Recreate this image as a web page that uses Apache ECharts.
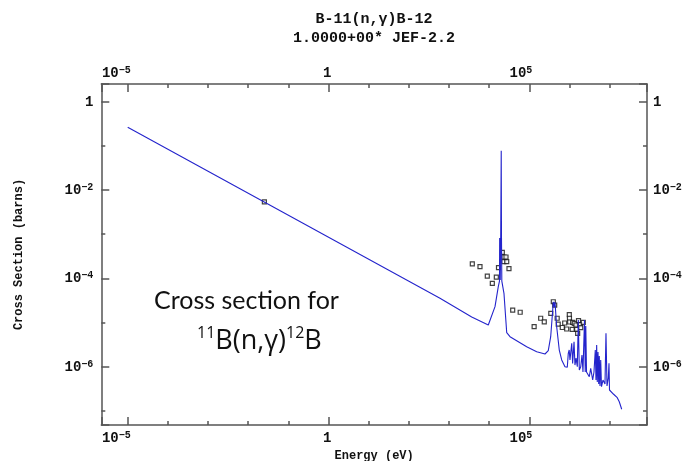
<!DOCTYPE html>
<html><head><meta charset="utf-8">
<script src="https://cdn.jsdelivr.net/npm/echarts@6/dist/echarts.min.js"></script>
<style>html,body{margin:0;padding:0;background:#fff}#c{width:691px;height:461px}</style>
</head><body><div id="c"></div>
<script>
// Energies in eV, cross sections in barns
const jefCurve = [
  [1e-5, 0.263], [597, 3.54e-5], [3680, 1.34e-5], [9530, 8.8e-6],
  [1.40e4, 2.29e-5], [1.69e4, 6.48e-5], [1.81e4, 8.7e-5], [1.83e4, 8.2e-4],
  [1.89e4, 9.2e-5], [1.94e4, 8.2e-4], [2.00e4, 0.0778], [2.03e4, 8.2e-4],
  [2.07e4, 8.7e-5], [2.34e4, 4.59e-5], [2.74e4, 5.89e-6], [3.31e4, 4.79e-6],
  [8.61e4, 2.84e-6], [1.53e5, 2.19e-6], [2.46e5, 1.94e-6], [2.97e5, 2.31e-6],
  [3.41e5, 4.79e-6], [3.83e5, 1.92e-5], [3.96e5, 2.96e-5], [4.19e5, 2.25e-5],
  [4.36e5, 2.92e-5], [4.81e5, 8.05e-6], [5.58e5, 2.39e-6], [6.41e5, 1.42e-6],
  [7.74e5, 1.0e-6], [8.83e5, 9.7e-7], [9.35e5, 2.01e-6], [9.85e5, 2.39e-6],
  [1.03e6, 1.42e-6], [1.14e6, 3.39e-6], [1.20e6, 1.19e-6], [1.30e6, 3.68e-6],
  [1.37e6, 1.09e-6], [1.46e6, 1.57e-6], [1.57e6, 1.0e-6], [1.66e6, 1.14e-5],
  [1.76e6, 8.43e-7], [1.91e6, 1.0e-6], [2.05e6, 1.84e-6], [2.17e6, 7.6e-7],
  [2.37e6, 1.14e-5], [2.47e6, 7.6e-7], [2.55e6, 8.35e-6], [2.66e6, 7.6e-7],
  [3.12e6, 5.94e-7], [3.38e6, 9.2e-7], [3.79e6, 5.0e-7], [4.08e6, 7.6e-7],
  [4.40e6, 2.39e-6], [4.58e6, 5.0e-7], [4.76e6, 3.1e-6], [4.93e6, 4.5e-7],
  [5.14e6, 2.15e-6], [5.35e6, 4.06e-7], [5.53e6, 1.75e-6], [5.76e6, 3.66e-7],
  [6.0e6, 1.42e-6], [6.28e6, 3.53e-7], [6.84e6, 5.0e-7], [7.67e6, 4.06e-7],
  [8.12e6, 5.71e-6], [8.61e6, 3.66e-7], [9.27e6, 5.56e-7], [9.65e6, 1.19e-6],
  [9.93e6, 2.97e-7], [1.24e7, 2.41e-7], [1.55e7, 1.99e-7], [1.74e7, 1.61e-7],
  [2.0e7, 1.09e-7]
];
const expPoints = [
  [0.0253, 5.4e-3], [3810, 2.12e-4], [5920, 1.84e-4], [9000, 1.13e-4],
  [1.20e4, 7.74e-5], [1.51e4, 1.07e-4], [1.71e4, 1.75e-4], [2.13e4, 3.89e-4],
  [2.34e4, 3.05e-4], [2.63e4, 3.05e-4], [2.32e4, 2.39e-4], [2.74e4, 2.39e-4],
  [3.12e4, 1.66e-4], [3.86e4, 1.92e-5], [5.93e4, 1.71e-5], [1.32e5, 8.05e-6],
  [1.92e5, 1.25e-5], [2.36e5, 1.04e-5], [3.43e5, 1.62e-5], [3.96e5, 2.96e-5],
  [4.29e5, 2.49e-5], [4.95e5, 1.25e-5], [5.25e5, 9.18e-6], [6.63e5, 7.73e-6],
  [7.61e5, 9.77e-6], [8.53e5, 7.14e-6], [9.91e5, 1.51e-5], [1.0e6, 1.25e-5],
  [1.01e6, 1.03e-5], [1.17e6, 7.03e-6], [1.20e6, 1.01e-5], [1.32e6, 9.62e-6],
  [1.45e6, 8.8e-6], [1.51e6, 7.03e-6], [1.68e6, 1.10e-5], [1.83e6, 8.94e-6],
  [1.60e6, 5.71e-6], [2.21e6, 1.01e-5], [1.91e6, 7.64e-6]
];
const energyRange = [2.2e-6, 8.53e7];     // axis extent (eV)
const sigmaRange = [4.79e-8, 2.52];       // axis extent (barns)
const titleLines = ['B-11(n,\u03b3)B-12', '1.0000+00* JEF-2.2'];
const xName = 'Energy (eV)';
const yName = 'Cross Section (barns)';

const lg = Math.log10;
const xMin = lg(energyRange[0]), xMax = lg(energyRange[1]);
const yMin = lg(sigmaRange[0]), yMax = lg(sigmaRange[1]);

const GRAY = '#555';
const isInt = v => Math.abs(v - Math.round(v)) < 1e-6;
function fmt(v) {
  if (!isInt(v)) return '';
  const n = Math.round(v);
  if (n === 0) return '{b|1}';
  return '{b|10}{s|' + (n < 0 ? '\u2212' + (-n) : n) + '}';
}
const rich = {
  b: {fontFamily: 'Liberation Mono', fontWeight: 'bold', fontSize: 14, color: '#111', lineHeight: 15, verticalAlign: 'bottom'},
  s: {fontFamily: 'Liberation Mono', fontWeight: 'bold', fontSize: 10, color: '#111', lineHeight: 15, verticalAlign: 'top', padding: [0,0,5,0]}
};
function mkX(pos, major) {
  return {
    type: 'value', position: pos, min: xMin, max: xMax, gridIndex: 0,
    splitNumber: major ? 3 : 13,
    axisLine: {show: !major, onZero: false, lineStyle: {color: GRAY, width: 1.5}},
    axisTick: {show: true, inside: true, length: major ? 8 : 4, lineStyle: {color: GRAY, width: 1.5}},
    axisLabel: {show: major, formatter: fmt, rich: rich, margin: pos === 'top' ? 4 : 5, align: 'right', padding: [0, -3, 0, 0]},
    splitLine: {show: false},
    name: (major && pos === 'bottom') ? xName : '',
    nameLocation: 'middle', nameGap: 22,
    nameTextStyle: {fontFamily: 'Liberation Mono', fontWeight: 'bold', fontSize: 12, color: '#111'}
  };
}
function mkY(pos, major) {
  return {
    type: 'value', position: pos, min: yMin, max: yMax, gridIndex: 0,
    splitNumber: major ? 4 : 8,
    axisLine: {show: !major, onZero: false, lineStyle: {color: GRAY, width: 1.5}},
    axisTick: {show: true, inside: true, length: major ? 8 : 4, lineStyle: {color: GRAY, width: 1.5}},
    axisLabel: {show: major, formatter: fmt, rich: rich, margin: pos === 'left' ? 8 : 6},
    splitLine: {show: false},
    name: (major && pos === 'left') ? yName : '',
    nameLocation: 'middle', nameGap: 76,
    nameTextStyle: {fontFamily: 'Liberation Mono', fontWeight: 'bold', fontSize: 12, color: '#111'}
  };
}

const chart = echarts.init(document.getElementById('c'), null, {renderer: 'canvas'});
chart.setOption({
  animation: false,
  backgroundColor: '#fff',
  grid: {left: 101.3, right: 44, top: 84, bottom: 36, containLabel: false, outerBoundsMode: 'none'},
  xAxis: [mkX('bottom', false), mkX('bottom', true), mkX('top', false), mkX('top', true)],
  yAxis: [mkY('left', false), mkY('left', true), mkY('right', false), mkY('right', true)],
  graphic: [
    {type: 'text', x: 374, y: 19, style: {text: titleLines[0], fontFamily: 'Liberation Mono', fontWeight: 'bold', fontSize: 15, fill: '#111', align: 'center', verticalAlign: 'middle'}},
    {type: 'text', x: 374, y: 38, style: {text: titleLines[1], fontFamily: 'Liberation Mono', fontWeight: 'bold', fontSize: 15, fill: '#111', align: 'center', verticalAlign: 'middle'}},
    {type: 'text', x: 154, y: 301, z: 10, style: {text: 'Cross section for', fontFamily: 'Lato', fontSize: 25, fill: '#111', align: 'left', verticalAlign: 'middle'}},
    {type: 'text', x: 197, y: 340, z: 10, style: {
      text: '{sup|11}{m|B(n,\u03b3)}{sup|12}{m|B}', align: 'left', verticalAlign: 'middle',
      rich: {
        sup: {fontFamily: 'Open Sans', fontSize: 16, fill: '#111', lineHeight: 30, verticalAlign: 'top'},
        m: {fontFamily: 'Open Sans', fontSize: 27, fill: '#111', lineHeight: 30, verticalAlign: 'bottom'}
      }}}
  ],
  series: [
    {type: 'line', xAxisIndex: 0, yAxisIndex: 0, data: jefCurve.map(p => [lg(p[0]), lg(p[1])]),
     showSymbol: false, symbol: 'none', lineStyle: {color: '#2424cc', width: 1.1}, z: 3},
    {type: 'scatter', xAxisIndex: 0, yAxisIndex: 0, data: expPoints.map(p => [lg(p[0]), lg(p[1])]),
     symbol: 'rect', symbolSize: 4, itemStyle: {color: '#fff', borderColor: '#111', borderWidth: 1.2}, z: 2}
  ]
});
</script></body></html>
